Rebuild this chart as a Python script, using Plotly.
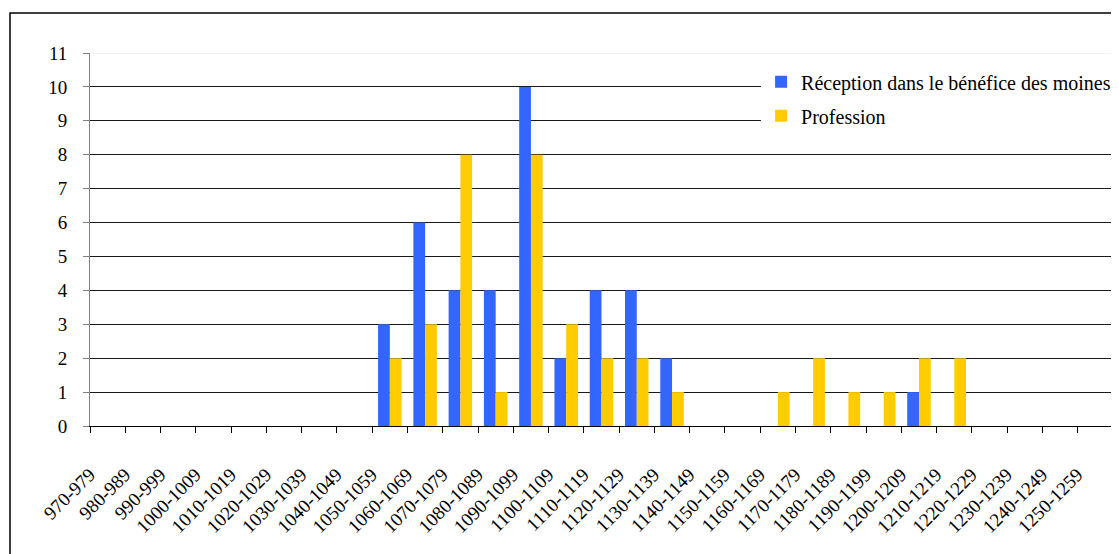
import plotly.graph_objects as go

# decades
periods = ["970-979", "980-989", "990-999", "1000-1009", "1010-1019", "1020-1029",
           "1030-1039", "1040-1049", "1050-1059", "1060-1069", "1070-1079", "1080-1089",
           "1090-1099", "1100-1109", "1110-1119", "1120-1129", "1130-1139", "1140-1149",
           "1150-1159", "1160-1169", "1170-1179", "1180-1189", "1190-1199", "1200-1209",
           "1210-1219", "1220-1229", "1230-1239", "1240-1249", "1250-1259"]

reception = [0, 0, 0, 0, 0, 0, 0, 0, 3, 6, 4, 4, 10, 2, 4, 4, 2, 0,
             0, 0, 0, 0, 0, 1, 0, 0, 0, 0, 0]
profession = [0, 0, 0, 0, 0, 0, 0, 0, 2, 3, 8, 1, 8, 3, 2, 2, 1, 0,
              0, 1, 2, 1, 1, 2, 2, 0, 0, 0, 0]

serif = "Liberation Serif"

fig = go.Figure()
fig.add_trace(go.Bar(x=periods, y=reception, name="Réception dans le bénéfice des moines",
                     marker=dict(color="#3366FF", line=dict(width=0)), legendgroup="a"))
fig.add_trace(go.Bar(x=periods, y=profession, name="Profession",
                     marker=dict(color="#FFCC00", line=dict(width=0)), legendgroup="b"))

# the page body adds 8px, so margins are measured from there
fig.update_layout(
    width=1119, height=554,
    margin=dict(l=82, r=14, t=45, b=136, autoexpand=False),
    paper_bgcolor="white", plot_bgcolor="white",
    font=dict(family=serif, size=19, color="black"),
    barmode="group", bargap=0.333, bargroupgap=0,
    showlegend=True,
    legend=dict(x=0.656, y=0.975, xanchor="left", yanchor="top",
                bgcolor="white", borderwidth=0, tracegroupgap=5,
                traceorder="grouped", font=dict(family=serif, size=20),
                itemwidth=30),
)

fig.update_xaxes(
    type="category", tickson="boundaries", tickangle=-45, automargin=False,
    ticks="outside", ticklen=6, tickcolor="black",
    showline=True, linecolor="black", linewidth=1,
    showgrid=False, ticklabelshift=-18, ticklabelstandoff=29,
    tickfont=dict(family=serif, size=19),
)
fig.update_yaxes(
    range=[0, 11], dtick=1, ticks="outside", ticklen=6, tickcolor="#808080",
    automargin=False,
    showline=True, linecolor="#808080", linewidth=1,
    showgrid=True, gridcolor="#1a1a1a", gridwidth=1,
    zeroline=False, ticklabelstandoff=12,
    tickfont=dict(family=serif, size=19),
)

# light top line and outer frame
fig.add_shape(type="line", xref="paper", yref="y", x0=0, x1=1, y0=11, y1=11,
              line=dict(color="#e4e4e4", width=1))
fig.add_shape(type="rect", xref="paper", yref="paper",
              x0=-0.0782, x1=1.03, y0=-0.4, y1=1.107,
              line=dict(color="black", width=1.5), layer="below")

fig.write_html("out.html")
